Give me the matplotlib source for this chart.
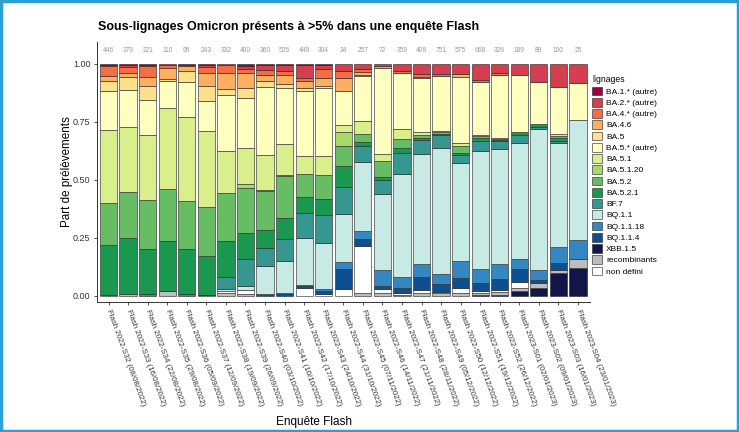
import numpy as np
import matplotlib
matplotlib.use("Agg")
import matplotlib.pyplot as plt
from matplotlib.patches import Patch, Rectangle

plt.rcParams['font.family'] = ['Liberation Sans', 'DejaVu Sans']

labels = ["Flash 2022-S32 (08/08/2022)", "Flash 2022-S33 (16/08/2022)", "Flash 2022-S34 (22/08/2022)",
          "Flash 2022-S35 (29/08/2022)", "Flash 2022-S36 (05/09/2022)", "Flash 2022-S37 (12/09/2022)",
          "Flash 2022-S38 (19/09/2022)", "Flash 2022-S39 (26/09/2022)", "Flash 2022-S40 (03/10/2022)",
          "Flash 2022-S41 (10/10/2022)", "Flash 2022-S42 (17/10/2022)", "Flash 2022-S43 (24/10/2022)",
          "Flash 2022-S44 (31/10/2022)", "Flash 2022-S45 (07/11/2022)", "Flash 2022-S46 (14/11/2022)",
          "Flash 2022-S47 (21/11/2022)", "Flash 2022-S48 (28/11/2022)", "Flash 2022-S49 (05/12/2022)",
          "Flash 2022-S50 (12/12/2022)", "Flash 2022-S51 (19/12/2022)", "Flash 2022-S52 (26/12/2022)",
          "Flash 2023-S01 (02/01/2023)", "Flash 2023-S02 (09/01/2023)", "Flash 2023-S03 (16/01/2023)",
          "Flash 2023-S04 (23/01/2023)"]
counts = [446, 379, 221, 110, 95, 243, 332, 400, 360, 526, 449, 304, 34, 257, 72,
          359, 406, 751, 575, 668, 326, 189, 89, 100, 25]

BA1 = [0.3, 0.6, 0.3, 0, 0.3, 0.5, 0, 0.7, 0.5, 0.3, 0.5, 0.3, 0, 0, 0, 0, 0, 0, 0, 0, 0, 0, 0, 0, 0]
BA2 = [0.6, 0.9, 0.6, 0.3, 0, 0.9, 0.6, 1.4, 2.3, 2.6, 5.5, 1.9, 2.94, 2.2, 0.7, 3.2, 4.4, 4.3, 4.3, 6.9, 3.9, 4.7, 7.9, 10, 8]
BA4a = [4.3, 2.2, 4.7, 1.4, 0.7, 2.4, 3.3, 1.7, 2.0, 1.9, 1.2, 3.9, 2.94, 1.4, 0, 0.5, 1.0, 0.7, 0, 0.7, 1.0, 0, 0, 0, 0]
BA46 = [2.3, 1.7, 3.7, 4.6, 1.9, 5.7, 6.9, 6.5, 2.6, 3.9, 3.2, 3.6, 5.88, 1.0, 1.0, 0, 0.5, 0, 1.1, 0, 0, 0, 0, 0, 0]
BA5 = [4.2, 5.7, 6.0, 1.0, 4.9, 6.2, 2.4, 4.3, 2.7, 1.7, 1.4, 0.7, 0, 0.5, 0, 0, 0, 0, 0, 0, 0, 0, 0, 0, 0]
BA5a = [16.7, 16.2, 15.1, 11.9, 15.2, 12.9, 24.1, 21.3, 29.2, 24.1, 28.0, 29.2, 14.7, 19.4, 36.1, 24.1, 23.3, 23.7, 28.7, 22.6, 26.6, 24.4, 18.0, 20, 16]
BA51 = [31.6, 27.9, 28.0, 34.5, 35.8, 32.9, 18.2, 15.8, 15.1, 13.6, 7.9, 8.2, 2.94, 5.7, 2.8, 4.3, 1.2, 0.6, 1.0, 0.5, 0.4, 0, 0, 1, 0]
BA5120 = [0, 0, 0, 0, 0, 0, 0, 1.7, 0.4, 0.5, 0, 0, 5.88, 0, 0, 0, 0, 0, 0, 0, 0, 0, 0, 0, 0]
BA52 = [18.0, 19.4, 20.8, 22.7, 21.0, 20.8, 20.5, 19.1, 17.2, 18.2, 9.6, 10.5, 8.82, 3.2, 6.9, 3.9, 1.4, 0.8, 3.3, 1.0, 0.5, 0, 0, 1, 0]
BA521 = [21.8, 24.1, 19.1, 21.6, 19.0, 16.7, 15.4, 11.1, 7.6, 9.1, 6.9, 6.8, 8.82, 1.9, 1.4, 2.4, 0.8, 0.5, 0.7, 1.0, 0.5, 1.4, 1.1, 1, 0]
BF7 = [0, 0, 1.0, 0, 1.0, 0.3, 5.0, 11.6, 7.9, 9.3, 10.8, 11.9, 11.76, 6.5, 5.6, 8.8, 6.0, 5.5, 3.3, 4.3, 3.2, 3.2, 1.1, 1, 0]
BQ11 = [0, 0, 0, 0, 0, 0, 1.0, 1.7, 11.8, 13.9, 20.5, 19.7, 20.59, 29.5, 31.9, 44.1, 47.0, 53.9, 42.0, 50.6, 49.3, 50.0, 60.7, 45, 52]
BQ1118 = [0, 0, 0, 0, 0, 0, 0, 0, 0, 0, 0.5, 1.1, 2.94, 3.6, 6.9, 5.0, 5.5, 4.3, 7.6, 5.9, 6.5, 4.3, 4.5, 7, 8]
BQ114 = [0, 0, 0, 0, 0, 0, 0, 0, 1.0, 1.2, 0.8, 1.4, 8.82, 3.2, 1.4, 1.9, 5.7, 3.6, 4.2, 3.2, 4.6, 5.7, 1.1, 3, 0]
XBB = [0, 0, 0, 0, 0, 0, 0, 0, 0, 0, 0, 0, 0, 0, 0, 0, 0, 0, 0, 0.5, 0.6, 2.2, 3.4, 10, 12]
REC = [0.2, 1.0, 0, 2.0, 0, 0.3, 1.2, 0.9, 0, 0, 0, 0, 0, 1.4, 1.4, 0.6, 1.2, 1.4, 1.4, 0.9, 1.0, 1.4, 2.2, 1, 4]
ND = [0, 0, 0, 0, 0, 0, 0.8, 1.7, 0, 0, 3.3, 0.7, 2.94, 19.8, 1.4, 0.7, 1.2, 0.3, 1.9, 0.9, 0.9, 2.2, 0, 0, 0]

legend_names = ["BA.1.* (autre)", "BA.2.* (autre)", "BA.4.* (autre)", "BA.4.6", "BA.5", "BA.5.* (autre)",
                "BA.5.1", "BA.5.1.20", "BA.5.2", "BA.5.2.1", "BF.7", "BQ.1.1", "BQ.1.1.18", "BQ.1.1.4",
                "XBB.1.5", "recombinants", "non défini"]
colors = {"BA.1.* (autre)": "#9E0142", "BA.2.* (autre)": "#D53E4F", "BA.4.* (autre)": "#F46D43",
          "BA.4.6": "#FDAE61", "BA.5": "#FEE08B", "BA.5.* (autre)": "#FFFFBF", "BA.5.1": "#D9EF8B",
          "BA.5.1.20": "#A6D96A", "BA.5.2": "#66BD63", "BA.5.2.1": "#1A9850", "BF.7": "#35978F",
          "BQ.1.1": "#C7EAE5", "BQ.1.1.18": "#3587C2", "BQ.1.1.4": "#0E4F91", "XBB.1.5": "#131549",
          "recombinants": "#BDBDBD", "non défini": "#FFFFFF"}
series = {"BA.1.* (autre)": BA1, "BA.2.* (autre)": BA2, "BA.4.* (autre)": BA4a, "BA.4.6": BA46,
          "BA.5": BA5, "BA.5.* (autre)": BA5a, "BA.5.1": BA51, "BA.5.1.20": BA5120, "BA.5.2": BA52,
          "BA.5.2.1": BA521, "BF.7": BF7, "BQ.1.1": BQ11, "BQ.1.1.18": BQ1118, "BQ.1.1.4": BQ114,
          "XBB.1.5": XBB, "recombinants": REC, "non défini": ND}
stack_order = ["XBB.1.5", "recombinants", "non défini", "BQ.1.1.4", "BQ.1.1.18", "BQ.1.1", "BF.7",
               "BA.5.2.1", "BA.5.2", "BA.5.1.20", "BA.5.1", "BA.5.* (autre)", "BA.5", "BA.4.6",
               "BA.4.* (autre)", "BA.2.* (autre)", "BA.1.* (autre)"]

data = np.array([series[k] for k in stack_order], dtype=float)
data = data / data.sum(axis=0, keepdims=True)
x = np.arange(1, len(labels) + 1)

fig = plt.figure(figsize=(7.39, 4.32), dpi=100)
ax = fig.add_axes([0.131, 0.301, 0.667, 0.602])

bottom = np.zeros(len(x))
edge = (0.15, 0.15, 0.15, 0.6)
for i, name in enumerate(stack_order):
    h = data[i]
    m = h > 0
    ax.bar(x[m], h[m], bottom=bottom[m], width=0.88, color=colors[name],
           edgecolor=edge, linewidth=0.7)
    bottom += h

for xi, c in zip(x, counts):
    ax.text(xi, 1.056, str(c), ha='center', va='center', fontsize=4.8, color='#999999')

ax.set_xlim(0.4, len(x) + 0.6)
ax.set_ylim(-0.026, 1.095)
ax.set_yticks([0, 0.25, 0.5, 0.75, 1.0])
ax.set_yticklabels(["0.00", "0.25", "0.50", "0.75", "1.00"], fontsize=6.5, color='#333333')
ax.set_xticks(x)
ax.set_xticklabels(labels, rotation=-70, ha='left', va='center', rotation_mode='anchor',
                   fontsize=5.7, color='#333333')
ax.tick_params(axis='both', length=2.5, width=0.6, color='#333333', pad=2)
ax.tick_params(axis='x', pad=3)
for s in ['top', 'right']:
    ax.spines[s].set_visible(False)
for s in ['left', 'bottom']:
    ax.spines[s].set_linewidth(0.7)
    ax.spines[s].set_color('#333333')

ax.set_ylabel("Part de prélèvements", fontsize=8.4, labelpad=0)
fig.text(0.425, 0.022, "Enquête Flash", ha='center', va='center', fontsize=8.5)
fig.text(0.133, 0.938, "Sous-lignages Omicron présents à >5% dans une enquête Flash",
         ha='left', va='center', fontsize=9, fontweight='bold')

handles = [Patch(facecolor=colors[n], edgecolor=(0.15, 0.15, 0.15, 0.7), linewidth=0.6) for n in legend_names]
leg = fig.legend(handles, legend_names, loc='upper left', bbox_to_anchor=(0.797, 0.833),
                 frameon=False, fontsize=6, title="lignages", title_fontsize=6.2,
                 handlelength=1.2, handleheight=1.25, handletextpad=0.45, labelspacing=0.245,
                 borderaxespad=0)
leg._legend_box.align = "left"

fig.patches.append(Rectangle((0.001, 0.002), 0.997, 0.996, transform=fig.transFigure,
                             fill=False, edgecolor='#2AA0DA', linewidth=2.5))

fig.savefig("out.png", dpi=100)
